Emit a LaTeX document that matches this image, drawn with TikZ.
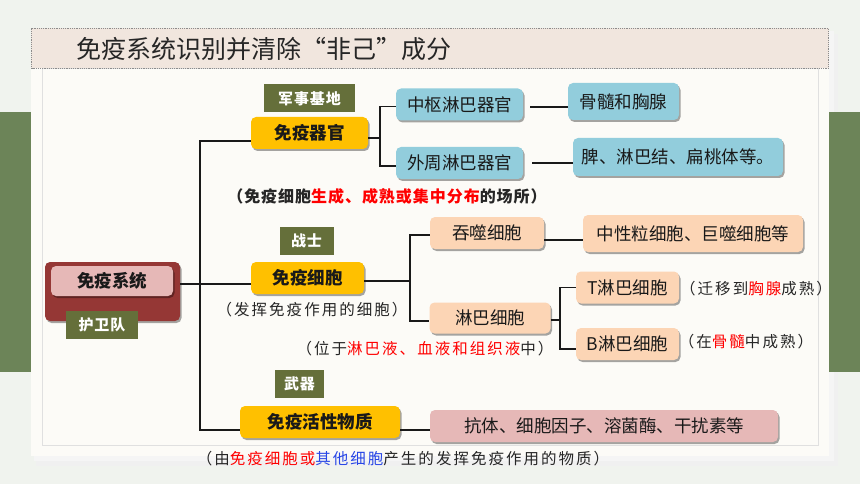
\documentclass[tikz,border=0pt]{standalone}
\usepackage{fontspec}
\setmainfont{Noto Sans CJK SC}
\newfontfamily\kai[LetterSpace=13]{Noto Sans CJK SC}
\newfontfamily\kaib[LetterSpace=6]{Noto Sans CJK SC}
\usetikzlibrary{shadows,calc}
\definecolor{bgc}{RGB}{240,243,238}
\definecolor{bandc}{RGB}{108,132,88}
\definecolor{panelc}{RGB}{252,251,247}
\definecolor{titlec}{RGB}{241,230,222}
\definecolor{olivec}{RGB}{101,111,58}
\definecolor{bluec}{RGB}{146,205,220}
\definecolor{peachc}{RGB}{252,213,181}
\definecolor{pinkc}{RGB}{230,184,183}
\definecolor{yelc}{RGB}{255,192,0}
\definecolor{darkredc}{RGB}{149,55,53}
\definecolor{bluetxt}{RGB}{40,70,230}
\begin{document}
\begin{tikzpicture}[x=1pt,y=-1pt,
  box/.style={rounded corners=5pt, inner sep=0pt, font=\fontsize{17.5}{20}\selectfont, text=black!90,
    drop shadow={shadow xshift=1.5pt, shadow yshift=-2pt, fill=black, opacity=0.35}},
  bluebox/.style={box, fill=bluec},
  peachbox/.style={box, fill=peachc},
  pinkbox/.style={box, fill=pinkc},
  yelbox/.style={box, fill=yelc, font=\fontsize{17.5}{20}\selectfont\bfseries},
  tag/.style={fill=olivec, text=white, inner sep=0pt, font=\kaib\fontsize{15}{17}\selectfont\bfseries},
  ann/.style={font=\kai\fontsize{15.5}{18}\selectfont, text=black!85, inner sep=0pt},
  conn/.style={line width=1.8pt, black!90}]
\useasboundingbox (0,0) rectangle (860,484);
% background
\fill[bgc] (0,0) rectangle (860,484);
% panel shadow
\fill[black!6] (36,34) rectangle (838,466);
\fill[black!4] (34,31) rectangle (834,461);
% green bands
\fill[bandc] (0,112) rectangle (31,372);
\fill[bandc] (829,112) rectangle (860,372);
% panel
\fill[panelc] (31,28) rectangle (829,456);
\draw[black!12, line width=0.8pt] (42,68) rectangle (818,445);
\fill[titlec] (31,28) rectangle (829,68.5);
\draw[densely dotted, black!45, line width=1.2pt] (31.5,28.5) rectangle (828.5,68.5);
\node[anchor=west, font=\fontsize{25}{28}\selectfont, text=black!85, inner sep=0pt] (title) at (76,49) {免疫系统识别并清除“非己”成分};

% root
\node[box, fill=darkredc, minimum width=135pt, minimum height=59pt] (sysbg) at (112.5,291.5) {};
\node[pinkbox, minimum width=122pt, minimum height=30pt, font=\fontsize{17.5}{20}\selectfont\bfseries] (sys) at (112,281) {免疫系统};
\node[tag, minimum width=72pt, minimum height=28pt] (guard) at (102,325) {护卫队};

% organs
\node[tag, minimum width=91pt, minimum height=28pt] (base) at (309.5,98.5) {军事基地};
\node[yelbox, minimum width=117pt, minimum height=32pt] (organs) at (309.5,133) {免疫器官};
\node[bluebox, minimum width=127pt, minimum height=32pt] (central) at (459.5,104.5) {中枢淋巴器官};
\node[bluebox, minimum width=127pt, minimum height=32pt] (periph) at (459.5,163) {外周淋巴器官};
\node[bluebox, minimum width=111pt, minimum height=37pt] (marrow) at (623.5,101.5) {骨髓和胸腺};
\node[bluebox, minimum width=210pt, minimum height=38pt] (spleen) at (678,157) {脾、淋巴结、扁桃体等。};
\node[ann, font=\kaib\fontsize{16}{18}\selectfont\bfseries] (ann1) at (387,196) {（免疫细胞\textcolor{red}{生成、成熟或集中分布}的场所）};

% cells
\node[tag, minimum width=54pt, minimum height=28pt] (soldier) at (306.5,240.5) {战士};
\node[yelbox, minimum width=113pt, minimum height=32pt] (cells) at (307.5,278) {免疫细胞};
\node[ann] (ann2) at (312,310) {（发挥免疫作用的细胞）};
\node[peachbox, minimum width=114pt, minimum height=32pt] (phago) at (487,233) {吞噬细胞};
\node[peachbox, minimum width=220pt, minimum height=37pt] (neutro) at (693,233.5) {中性粒细胞、巨噬细胞等};
\node[peachbox, minimum width=121pt, minimum height=31pt] (lymph) at (490,318) {淋巴细胞};
\node[peachbox, minimum width=103pt, minimum height=32pt] (tcell) at (627.5,287.5) {T淋巴细胞};
\node[peachbox, minimum width=103pt, minimum height=32pt] (bcell) at (627.5,344) {B淋巴细胞};
\node[ann] (annT) at (756,289) {（迁移到\textcolor{red}{胸腺}成熟）};
\node[ann] (annB) at (746,342) {（在\textcolor{red}{骨髓}中成熟）};
\node[ann] (ann3) at (425,349) {（位于\textcolor{red}{淋巴液、血液和组织液}中）};

% active substances
\node[tag, minimum width=49pt, minimum height=28pt] (weapon) at (299.5,384) {武器};
\node[yelbox, minimum width=160pt, minimum height=32pt] (active) at (320,422) {免疫活性物质};
\node[pinkbox, minimum width=348pt, minimum height=32pt] (antibody) at (604,426) {抗体、细胞因子、溶菌酶、干扰素等};
\node[ann] (ann4) at (403,459) {（由\textcolor{red}{免疫细胞或}\textcolor{bluetxt}{其他细胞}产生的发挥免疫作用的物质）};

% connectors
\coordinate (j0) at (200,284);
\draw[conn] ([yshift=7.5pt]sysbg.east) -- (j0);
\draw[conn] ([yshift=-8pt]organs.west) -| (j0) |- ([yshift=-8pt]active.west);
\draw[conn] (j0) -- ([yshift=-6pt]cells.west);

\coordinate (j1) at (380,138);
\draw[conn] ([yshift=-5pt]organs.east) -- (j1);
\draw[conn] ([yshift=-2pt]central.west) -| (j1) |- ([yshift=-3pt]periph.west);
\draw[conn] ($(central.east)+(7,2.5)$) -- ($(central.east -| marrow.west)+(0,2.5)$);
\draw[conn] ($(periph.east)+(9,0)$) -- (periph.east -| spleen.west);

\coordinate (j2) at (410,281);
\draw[conn] ([yshift=-3pt]cells.east) -- (j2);
\draw[conn] ([yshift=-2pt]phago.west) -| (j2) |- ([yshift=-3pt]lymph.west);
\draw[conn] ($(phago.east)+(0,7)$) -- ($(phago.east -| neutro.west)+(0,7)$);

\coordinate (j3) at (560,320);
\draw[conn] ([yshift=-2pt]lymph.east) -- (j3);
\draw[conn] (tcell.west) -| (j3) |- ([yshift=-5pt]bcell.west);

\draw[conn] ([yshift=-8pt]active.east) -- ($(active.east -| antibody.west)+(0,8)$);
\end{tikzpicture}
\end{document}
